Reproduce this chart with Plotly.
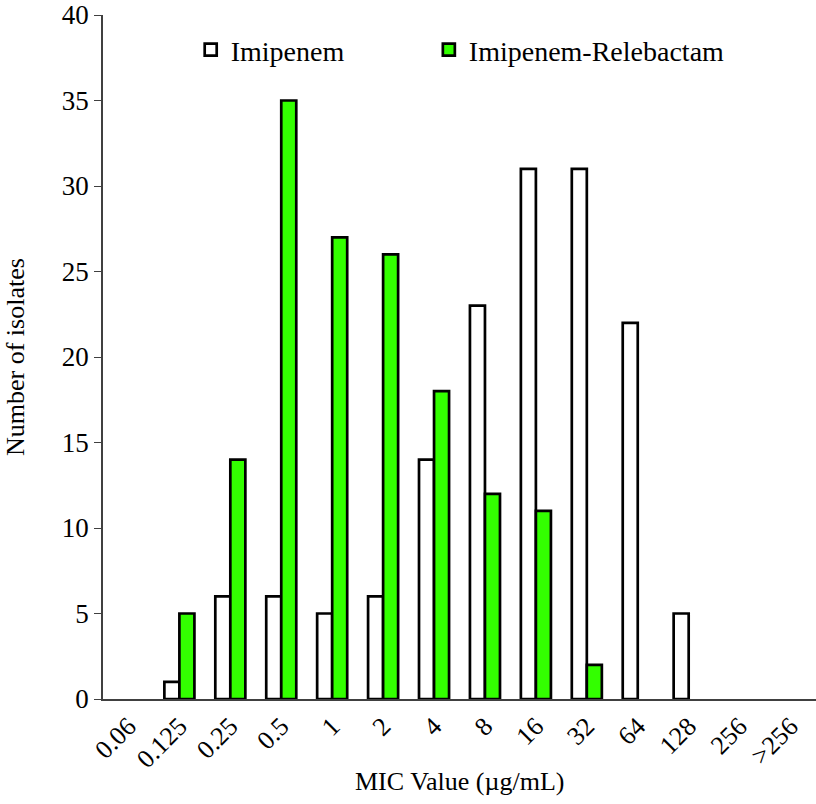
import plotly.graph_objects as go

categories = ["0.06", "0.125", "0.25", "0.5", "1", "2", "4", "8", "16", "32", "64", "128", "256", ">256"]
imipenem = [0, 1, 6, 6, 5, 6, 14, 23, 31, 31, 22, 5, 0, 0]
imi_rel = [0, 5, 14, 35, 27, 26, 18, 12, 11, 2, 0, 0, 0, 0]

font = "Liberation Serif, Times New Roman, serif"


def nz(vals):
    # zero counts draw no bar outline in the reference
    return [v if v > 0 else None for v in vals]


fig = go.Figure()
fig.add_trace(go.Bar(x=categories, y=nz(imipenem), name="Imipenem", legend="legend",
                     marker=dict(color="white", line=dict(color="black", width=2.7))))
fig.add_trace(go.Bar(x=categories, y=nz(imi_rel), name="Imipenem-Relebactam", legend="legend2",
                     marker=dict(color="#33ff00", line=dict(color="black", width=2.7))))

fig.update_layout(
    width=816, height=804,
    margin=dict(l=103, r=0, t=15, b=105),
    plot_bgcolor="white", paper_bgcolor="white",
    barmode="group", bargap=0.41, bargroupgap=0,
    font=dict(family=font, size=26, color="black"),
    showlegend=True,
    legend=dict(x=0.123, y=0.949, xanchor="left", yanchor="middle",
                font=dict(family=font, size=28), bgcolor="rgba(0,0,0,0)"),
    legend2=dict(x=0.457, y=0.949, xanchor="left", yanchor="middle",
                 font=dict(family=font, size=28), bgcolor="rgba(0,0,0,0)"),
    xaxis=dict(type="category", showline=True, linecolor="#404040", linewidth=1.5,
               ticks="", tickangle=-45, tickfont=dict(size=26), automargin=False),
    yaxis=dict(range=[0, 40], dtick=5, showline=True, linecolor="#404040", linewidth=1.5,
               ticks="outside", ticklen=7, tickcolor="#404040", showgrid=False, zeroline=False,
               tickfont=dict(size=27), automargin=False),
    annotations=[
        dict(text="MIC Value (µg/mL)", xref="paper", yref="paper", x=0.5, y=-0.12,
             xanchor="center", yanchor="middle", showarrow=False, font=dict(size=26)),
        dict(text="Number of isolates", xref="paper", yref="paper", x=-0.1234, y=0.5,
             xanchor="center", yanchor="middle", textangle=-90, showarrow=False, font=dict(size=26)),
    ],
)

fig.write_html("out.html", config={"displayModeBar": False},
               post_script="document.body.style.margin='0';")
